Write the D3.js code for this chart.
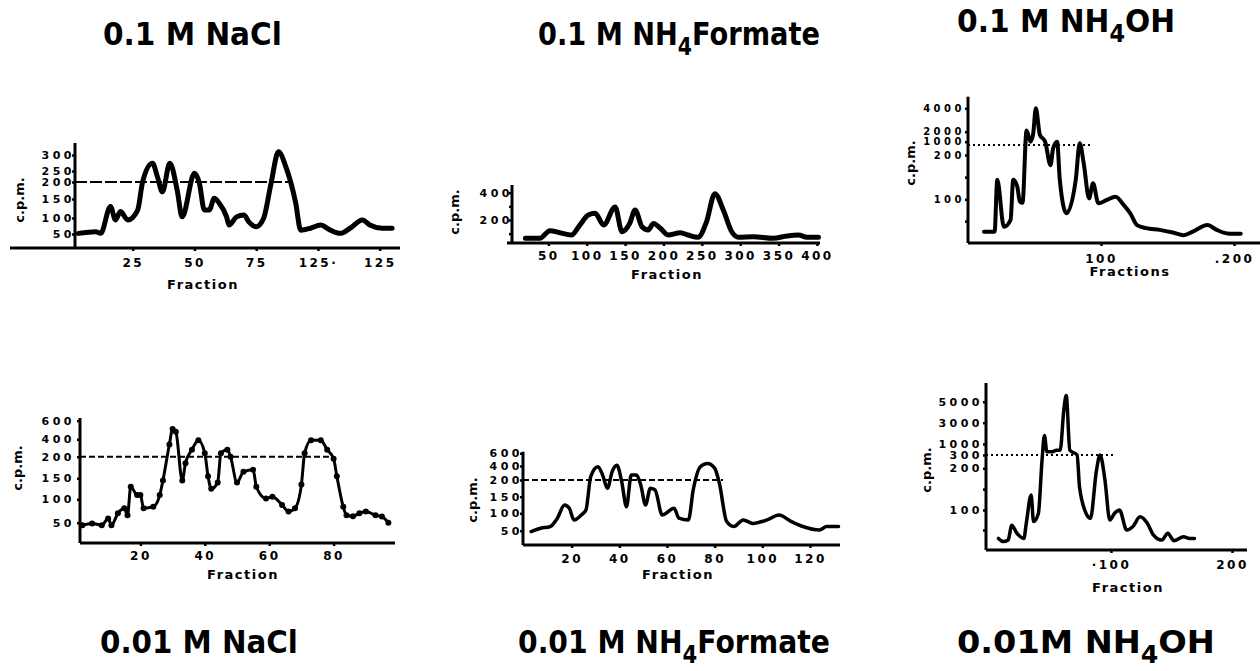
<!DOCTYPE html>
<html>
<head>
<meta charset="utf-8">
<script src="https://cdn.jsdelivr.net/npm/d3@7"></script>
<style>
  body { margin: 0; background: #fff; }
  svg text { font-family: "DejaVu Sans", sans-serif; font-weight: bold; fill: #000; }
</style>
</head>
<body>
<div id="chart-area"></div>
<script>
// ---- data (fraction number vs c.p.m.) ----

// 0.1 M NaCl
var naclHiFraction = [3,10,12,16,18,20,23,27,29,33,35,37,40,43,45,50,52,54,56,58,60,63,64,67,70,72,75,78,81,84,87,91,93,97,101,105,109,113,118,121,126,130];
var naclHiCpm = [52,57,52,130,94,117,94,121,201,274,224,171,274,176,103,240,196,121,121,152,139,103,78,103,108,88,73,99,196,310,263,139,62,68,78,62,52,68,94,78,68,68];
var naclHiYTicks = [50,100,150,200,250,300];
var naclHiXTicks = [25,50,75,100,125];
var naclHiXLabels = ["25","50","75","125·","125"];

// 0.1 M NH4 formate
var fmHiFraction = [20,39,52,65,80,91,102,111,122,137,146,156,163,172,180,187,196,206,222,232,245,256,267,278,289,298,317,343,361,376,387,402];
var fmHiCpm = [66,66,122,107,90,163,237,249,163,295,114,175,273,151,127,175,139,90,107,90,73,185,393,273,114,73,78,66,83,90,73,73];
var fmHiYTicks = [100,200,300,400];
var fmHiYLabels = [200,400];
var fmHiXTicks = [50,100,150,200,250,300,350,400];

// 0.1 M NH4OH
var ohHiFraction = [12,20,22,27,32,34,37,39,41,44,47,49,51,54,58,62,64,67,69,74,81,84,87,91,94,98,104,111,117,122,127,134,144,154,162,169,180,187,195,205];
var ohHiCpm = [26,26,144,37,53,144,129,95,92,2100,1000,1800,4000,1700,1000,177,600,1000,144,68,144,900,181,102,136,91,98,106,87,68,41,34,30,24,18,26,41,30,22,21];
var ohHiYTicks = [50,100,150,200,1000,2000,4000];
var ohHiYLabels = [100,200,1000,2000,4000];
var ohHiXTicks = [100,200];
var ohHiXLabels = ["100",".200"];

// 0.01 M NaCl
var naclLoFraction = [2,5,8,10,11,13,15,16,17,19,20,21,24,26,27,29,30,31,33,34,36,38,40,41,42,44,45,47,48,50,52,55,56,59,61,64,66,68,70,71,73,76,78,80,81,83,84,86,88,90,93,95,97];
var naclLoCpm = [44,48,44,59,44,70,81,66,130,110,110,81,84,110,145,340,510,480,145,185,280,390,240,155,125,140,240,280,200,140,165,170,130,102,106,88,74,81,135,240,390,390,280,195,155,84,66,64,70,74,66,63,50];
var naclLoYTicks = [50,100,150,200,400,600];
var naclLoXTicks = [20,40,60,80];

// 0.01 M NH4 formate
var fmLoFraction = [3,7,11,14,17,19,21,24,26,28,31,33,35,37,39,41,43,45,47,49,51,53,55,58,63,65,69,71,74,77,80,82,85,88,92,96,102,107,112,117,124,127,132];
var fmLoCpm = [47,57,62,86,125,115,81,95,110,250,390,270,175,320,410,195,120,270,270,185,125,175,170,95,115,86,81,170,390,440,370,190,77,62,81,71,81,95,77,62,52,62,62];
var fmLoYTicks = [50,100,150,200,400,600];
var fmLoXTicks = [20,40,60,80,100,120];

// 0.01 M NH4OH
var ohLoFraction = [7,11,15,18,22,28,30,34,36,40,43,45,47,51,55,58,61,63,66,72,74,80,83,88,91,95,99,103,107,113,118,124,130,135,142,147,152,160,165,169];
var ohLoCpm = [29,21,25,62,43,29,67,136,71,92,260,1800,500,500,600,600,4200,5600,600,300,155,88,79,195,300,172,75,92,100,50,58,83,67,38,25,42,23,33,29,29];
var ohLoYTicks = [50,100,150,200,300,1000,3000,5000];
var ohLoYLabels = [100,200,300,1000,3000,5000];
var ohLoXTicks = [100,200];
var ohLoXLabels = ["·100","200"];

var svg = d3.select("#chart-area").append("svg")
  .attr("width", 1260)
  .attr("height", 671)
  .style("background", "#fff");

// one elution profile with its (broken) c.p.m. axis
function drawPanel(p) {
  var g = svg.append("g");
  var x = d3.scaleLinear().domain(p.xDomain).range(p.xRange);
  var y = d3.scaleLinear().domain(p.yDomain).range(p.yRange);
  var yLab = p.yLabels || p.yTicks;

  // axis lines
  g.append("line")
    .attr("x1", p.axisX).attr("x2", p.axisX)
    .attr("y1", p.axisTop).attr("y2", p.axisY)
    .attr("stroke", "#000").attr("stroke-width", 3);
  g.append("line")
    .attr("x1", p.axisLeft).attr("x2", p.axisRight)
    .attr("y1", p.axisY).attr("y2", p.axisY)
    .attr("stroke", "#000").attr("stroke-width", 3);

  var yAxis = d3.axisLeft(y)
    .tickValues(p.yTicks)
    .tickSize(3)
    .tickPadding(p.yPad)
    .tickFormat(function(d) { return yLab.indexOf(d) >= 0 ? d : ""; });
  var ya = g.append("g")
    .attr("transform", "translate(" + p.axisX + ",0)")
    .call(yAxis);
  ya.select(".domain").remove();
  ya.selectAll("line").attr("stroke-width", 2.5);
  ya.selectAll("text")
    .style("font-size", p.ySize || "11px")
    .style("letter-spacing", "3.5px");

  var xAxis = d3.axisBottom(x)
    .tickValues(p.xTicks)
    .tickSize(3)
    .tickPadding(p.xPad)
    .tickFormat(function(d, i) { return p.xLabels ? p.xLabels[i] : d; });
  var xa = g.append("g")
    .attr("transform", "translate(0," + p.axisY + ")")
    .call(xAxis);
  xa.select(".domain").remove();
  xa.selectAll("line").attr("stroke-width", 2.5);
  xa.selectAll("text")
    .style("font-size", "12px")
    .style("letter-spacing", "2.5px");

  // reference level line
  if (p.refValue) {
    g.append("line")
      .attr("x1", p.axisX).attr("x2", p.refEnd)
      .attr("y1", y(p.refValue)).attr("y2", y(p.refValue))
      .attr("stroke", "#000")
      .attr("stroke-width", 2)
      .attr("stroke-dasharray", p.refDash);
  }

  var pts = d3.zip(p.fraction, p.cpm);
  var line = d3.line()
    .x(function(d) { return x(d[0]); })
    .y(function(d) { return y(d[1]); })
    .curve(d3.curveMonotoneX);

  g.append("path")
    .datum(pts)
    .attr("d", line)
    .attr("fill", "none")
    .attr("stroke", "#000")
    .attr("stroke-width", p.width)
    .attr("stroke-linejoin", "round")
    .attr("stroke-linecap", "round");

  if (p.dots) {
    g.selectAll("circle.pt")
      .data(pts)
      .enter()
      .append("circle")
      .attr("class", "pt")
      .attr("cx", function(d) { return x(d[0]); })
      .attr("cy", function(d) { return y(d[1]); })
      .attr("r", 3)
      .attr("fill", "#000");
  }

  g.append("text")
    .attr("x", p.xTitle[0]).attr("y", p.xTitle[1])
    .attr("text-anchor", "middle")
    .attr("dominant-baseline", "middle")
    .style("font-size", "13px")
    .style("letter-spacing", "1.5px")
    .text(p.xName);

  g.append("text")
    .attr("transform", "translate(" + p.yTitle[0] + "," + p.yTitle[1] + ") rotate(-90)")
    .attr("text-anchor", "middle")
    .attr("dominant-baseline", "middle")
    .style("font-size", "13px")
    .text("c.p.m.");
}

// panel heading, NH4 with subscript, stretched to the printed width
function addTitle(pre, sub, post, left, right, baseline) {
  var t = svg.append("text").style("font-size", "32px");
  t.append("tspan").text(pre);
  if (sub) {
    t.append("tspan").attr("dy", 10).style("font-size", "24px").text(sub);
    t.append("tspan").attr("dy", -10).text(post);
  }
  var w = t.node().getComputedTextLength();
  t.attr("transform", "translate(" + left + "," + baseline + ") scale(" + ((right - left) / w) + ",1)");
}

drawPanel({
  fraction: naclHiFraction, cpm: naclHiCpm,
  xDomain: [0, 132], xRange: [71, 397],
  yDomain: [0,50,100,150,200,250,300,350], yRange: [250,234,218,199,182,171,155,139],
  axisX: 75, axisTop: 143, axisY: 248, axisLeft: 10, axisRight: 400,
  yTicks: naclHiYTicks, yPad: -3, xTicks: naclHiXTicks, xLabels: naclHiXLabels, xPad: 7,
  refValue: 200, refEnd: 293, refDash: "12,3",
  width: 5, dots: false,
  xName: "Fraction", xTitle: [203, 285], yTitle: [20, 200]
});

drawPanel({
  fraction: fmHiFraction, cpm: fmHiCpm,
  xDomain: [0, 404], xRange: [510, 820],
  yDomain: [0, 200, 400, 455], yRange: [247.3, 220, 192.7, 185],
  axisX: 512, axisTop: 185, axisY: 243, axisLeft: 507, axisRight: 820,
  yTicks: fmHiYTicks, yLabels: fmHiYLabels, yPad: -4, xTicks: fmHiXTicks, xPad: 5,
  width: 5, dots: false,
  xName: "Fraction", xTitle: [667, 275], yTitle: [455, 212]
});

drawPanel({
  fraction: ohHiFraction, cpm: ohHiCpm,
  xDomain: [0, 219.5], xRange: [968, 1260],
  yDomain: [0,100,200,1000,2000,4000,5000], yRange: [243,199.3,155,141.7,131.7,108.3,96.7],
  axisX: 968, axisTop: 96.7, axisY: 243, axisLeft: 968, axisRight: 1260,
  yTicks: ohHiYTicks, yLabels: ohHiYLabels, yPad: 0, ySize: "10px", xTicks: ohHiXTicks, xLabels: ohHiXLabels, xPad: 8,
  refValue: 800, refEnd: 1090, refDash: "2,3",
  width: 4, dots: false,
  xName: "Fractions", xTitle: [1130, 272], yTitle: [911, 163]
});

drawPanel({
  fraction: naclLoFraction, cpm: naclLoCpm,
  xDomain: [0, 99], xRange: [76, 394.8],
  yDomain: [0,50,100,150,200,400,600], yRange: [543,522.7,499.3,478.3,456.7,439.3,420.7],
  axisX: 80, axisTop: 418, axisY: 543, axisLeft: 80, axisRight: 395,
  yTicks: naclLoYTicks, yPad: 2, xTicks: naclLoXTicks, xPad: 5,
  refValue: 200, refEnd: 333, refDash: "6,3",
  width: 3, dots: true,
  xName: "Fraction", xTitle: [243, 575], yTitle: [18, 468]
});

drawPanel({
  fraction: fmLoFraction, cpm: fmLoCpm,
  xDomain: [0, 132.6], xRange: [524, 840],
  yDomain: [0,50,100,150,200,400,600], yRange: [545,530.7,513.3,496.7,480,466,453.3],
  axisX: 523, axisTop: 451.7, axisY: 545, axisLeft: 523, axisRight: 840,
  yTicks: fmLoYTicks, yPad: -3, xTicks: fmLoXTicks, xPad: 6,
  refValue: 200, refEnd: 723, refDash: "6,3",
  width: 3.5, dots: false,
  xName: "Fraction", xTitle: [678, 575], yTitle: [473, 500]
});

drawPanel({
  fraction: ohLoFraction, cpm: ohLoCpm,
  xDomain: [0, 212], xRange: [990, 1246.5],
  yDomain: [0,100,200,300,1000,3000,5000,6000], yRange: [550,510,468.3,455,444,422.7,401.7,391.2],
  axisX: 986, axisTop: 383, axisY: 550, axisLeft: 986, axisRight: 1247,
  yTicks: ohLoYTicks, yLabels: ohLoYLabels, yPad: 0, xTicks: ohLoXTicks, xLabels: ohLoXLabels, xPad: 7,
  refValue: 300, refEnd: 1113, refDash: "2,3",
  width: 3.5, dots: false,
  xName: "Fraction", xTitle: [1128, 588], yTitle: [927, 470]
});

addTitle("0.1 M NaCl", null, null, 103, 282, 45);
addTitle("0.1 M NH", "4", "Formate", 538, 820, 45);
addTitle("0.1 M NH", "4", "OH", 957, 1175, 32);
addTitle("0.01 M NaCl", null, null, 100, 298, 653);
addTitle("0.01 M NH", "4", "Formate", 518, 830, 653);
addTitle("0.01M NH", "4", "OH", 957, 1215, 653);
</script>
</body>
</html>
